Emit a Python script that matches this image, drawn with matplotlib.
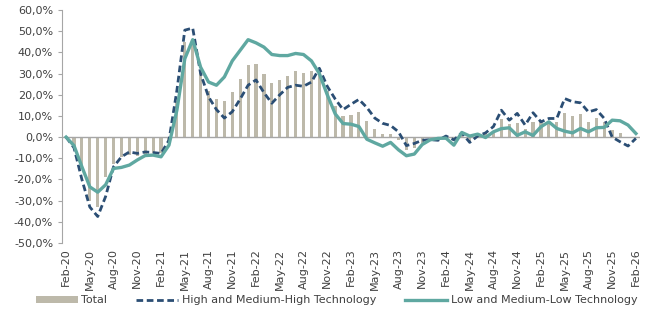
import numpy as np
import matplotlib
matplotlib.use("Agg")
import matplotlib.pyplot as plt
from matplotlib.ticker import FuncFormatter

# monthly series, Feb-20 .. Feb-26 (year-on-year change, %)
months = ["Feb", "Mar", "Apr", "May", "Jun", "Jul", "Aug", "Sep", "Oct", "Nov", "Dec", "Jan"]
labels = []
for k in range(73):
    m = months[k % 12]
    yr = 20 + (k + 1) // 12
    labels.append(f"{m}-{yr}")

total = [0, -4, -15, -30, -33, -19, -12.5, -9.5, -8.5, -9, -8, -7.5, -7.5, -3, 17,
         45, 44, 31, 22, 18, 17, 21.5, 27.5, 34, 34.5, 30, 25.5, 27, 29, 31,
         30.5, 31, 31, 22, 14.5, 10, 10.5, 12, 7.5, 4, 1.5, 1.5, -1.5, -6, -5,
         -3, -2, -1.5, -1, -1, 1, -2, 0.5, 2.5, 2.5, 8.5, 6, 6.5, 4, 7,
         7.7, 7.5, 7, 11.5, 10, 10.8, 7.3, 9, 7.3, 3.2, 2, 0, 0]

high_tech = [0, -5, -20, -33, -37.5, -28, -14, -9.3, -7, -7.7, -7, -7.3, -7.7, -1.5, 22,
             50.5, 51.5, 30, 19, 13, 9, 12, 18, 24.5, 27, 21, 16, 20, 23.5, 24.5,
             24, 26, 32.5, 24, 18, 13, 15.5, 17.8, 14, 9, 6.5, 5.5, 2.5, -4, -3,
             -1.5, -1.2, -1.5, 0.5, -1.3, 2, -2.5, 0.5, 2, 5, 12.7, 8, 11.2, 5.7, 11.5,
             7.2, 8.8, 8.8, 18.2, 16.7, 16.2, 11.9, 13, 8.8, 0, -2.2, -4.2, -0.6]

low_tech = [0, -4, -14, -23.5, -26, -22.5, -14.8, -14.3, -13.2, -10.8, -8.7, -8.5, -9.3, -3.8, 12.7,
            37, 46, 33, 26, 24.5, 28.4, 36, 41, 46, 44.5, 42.5, 39, 38.5, 38.5, 39.5,
            39, 36, 30, 20, 11, 6.4, 6.1, 5, -1, -2.7, -4.3, -2.5, -6, -8.8, -8,
            -3.5, -1.3, -0.6, -0.5, -3.8, 2.2, 0.5, 1.4, -0.2, 2.5, 4, 4.4, 0.8, 2.5, 0.8,
            4.9, 7.2, 4.1, 2.8, 2, 4.1, 2.5, 4.4, 4.6, 8, 7.7, 5.7, 1.7]

x = np.arange(len(labels))

bar_color = "#BDB9AA"
navy = "#2B4E74"
teal = "#5FA8A1"
axis_gray = "#A6A6A6"

fig = plt.figure(figsize=(6.47, 3.24), dpi=100)
ax = fig.add_axes([0.096, 0.25, 0.893, 0.719])

bars = ax.bar(x, total, width=0.4, color=bar_color, label="Total", zorder=2)
ax.axhline(0, color=axis_gray, lw=1.0, zorder=3)
l_high, = ax.plot(x, high_tech, color=navy, lw=2.0, dashes=(2.4, 1.3),
                  label="High and Medium-High Technology", zorder=4)
l_low, = ax.plot(x, low_tech, color=teal, lw=2.4,
                 label="Low and Medium-Low Technology", zorder=5)

ax.set_xlim(-0.5, len(labels) - 0.5)
ax.set_ylim(-50, 60)
ax.set_yticks(np.arange(-50, 61, 10))
ax.yaxis.set_major_formatter(FuncFormatter(lambda v, p: f"{v:.1f}%".replace(".", ",")))

ax.set_xticks(x[::3])
ax.set_xticklabels(labels[::3], rotation=90, fontsize=8, color="#404040")
ax.tick_params(axis="x", length=0, pad=4)
ax.tick_params(axis="y", labelsize=8, labelcolor="#404040", length=3, color=axis_gray, direction="out")

for s in ["top", "right", "bottom"]:
    ax.spines[s].set_visible(False)
ax.spines["left"].set_color(axis_gray)

fig.legend(handles=[bars, l_high, l_low], loc="center", bbox_to_anchor=(0.52, 0.073),
           ncol=3, frameon=False, fontsize=8, handlelength=3.8, handleheight=0.5,
           columnspacing=2.6, handletextpad=0.3, labelcolor="#404040")

fig.savefig("out.png", dpi=100)
